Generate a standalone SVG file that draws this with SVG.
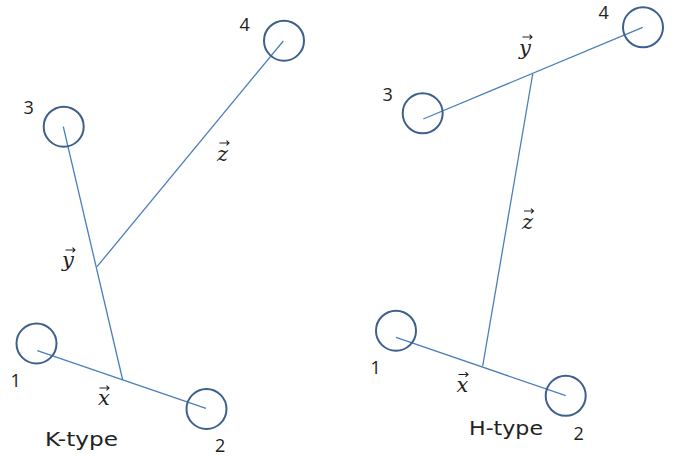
<svg xmlns="http://www.w3.org/2000/svg" width="685" height="459" viewBox="0 0 685 459">
<style>
.node{fill:none;stroke:#3d5f8e;stroke-width:2}
.edge{stroke:#4a7ebb;stroke-width:1.3;fill:none}
.num{font-family:"Open Sans","Liberation Sans",sans-serif;font-size:18px;fill:#222}
.vec{font-family:"DejaVu Serif","Liberation Serif",serif;font-style:italic;font-size:21px;fill:#222;text-anchor:middle}
.arr{stroke:#222;stroke-width:1.1;fill:none}
.title{font-family:"DejaVu Sans","Liberation Sans",sans-serif;font-size:20px;fill:#222}
</style>
<defs>
<path id="vecarrow" class="arr" d="M0 0 H9.5 M7 -2.3 L9.5 0 L7 2.3"/>
</defs>
<rect width="685" height="459" fill="#fff"/>
<g id="connectors">
<line class="edge" x1="37.3" y1="350.7" x2="206" y2="408.3"/>
<line class="edge" x1="63.3" y1="126.7" x2="122.7" y2="380"/>
<line class="edge" x1="97" y1="266.7" x2="283.3" y2="41"/>
<line class="edge" x1="396" y1="337.3" x2="565.7" y2="395.7"/>
<line class="edge" x1="423.3" y1="119" x2="642.7" y2="27.3"/>
<line class="edge" x1="532.7" y1="74" x2="482.7" y2="366"/>
</g>
<g id="k1"><circle class="node" cx="36.5" cy="343.5" r="20"/><text class="num" x="10.5" y="387">1</text></g>
<g id="k2"><circle class="node" cx="206.5" cy="409" r="20"/><text class="num" x="215" y="452">2</text></g>
<g id="k3"><circle class="node" cx="63.7" cy="126.7" r="20"/><text class="num" x="23.5" y="114">3</text></g>
<g id="k4"><circle class="node" cx="284" cy="40.7" r="20"/><text class="num" x="239.5" y="31">4</text></g>
<g id="h1"><circle class="node" cx="396" cy="330.7" r="20"/><text class="num" x="370.5" y="374">1</text></g>
<g id="h2"><circle class="node" cx="565.7" cy="395.8" r="20"/><text class="num" x="573.5" y="440">2</text></g>
<g id="h3"><circle class="node" cx="422.7" cy="113.3" r="20"/><text class="num" x="382.5" y="101">3</text></g>
<g id="h4"><circle class="node" cx="643" cy="27.3" r="20"/><text class="num" x="598.5" y="19">4</text></g>
<g id="labels">
<text class="vec" x="104" y="405">x</text><use href="#vecarrow" x="99.5" y="388"/>
<text class="vec" x="68" y="267">y</text><use href="#vecarrow" x="65.5" y="250"/>
<text class="vec" x="222.5" y="161">z</text><use href="#vecarrow" x="219.5" y="143"/>
<text class="vec" x="462.5" y="392">x</text><use href="#vecarrow" x="458.5" y="374.5"/>
<text class="vec" x="525" y="55">y</text><use href="#vecarrow" x="522.5" y="37"/>
<text class="vec" x="527.5" y="229">z</text><use href="#vecarrow" x="524" y="211"/>
<text class="title" x="45" y="446" textLength="73" lengthAdjust="spacingAndGlyphs">K-type</text>
<text class="title" x="469" y="435" textLength="74" lengthAdjust="spacingAndGlyphs">H-type</text>
</g>
</svg>
